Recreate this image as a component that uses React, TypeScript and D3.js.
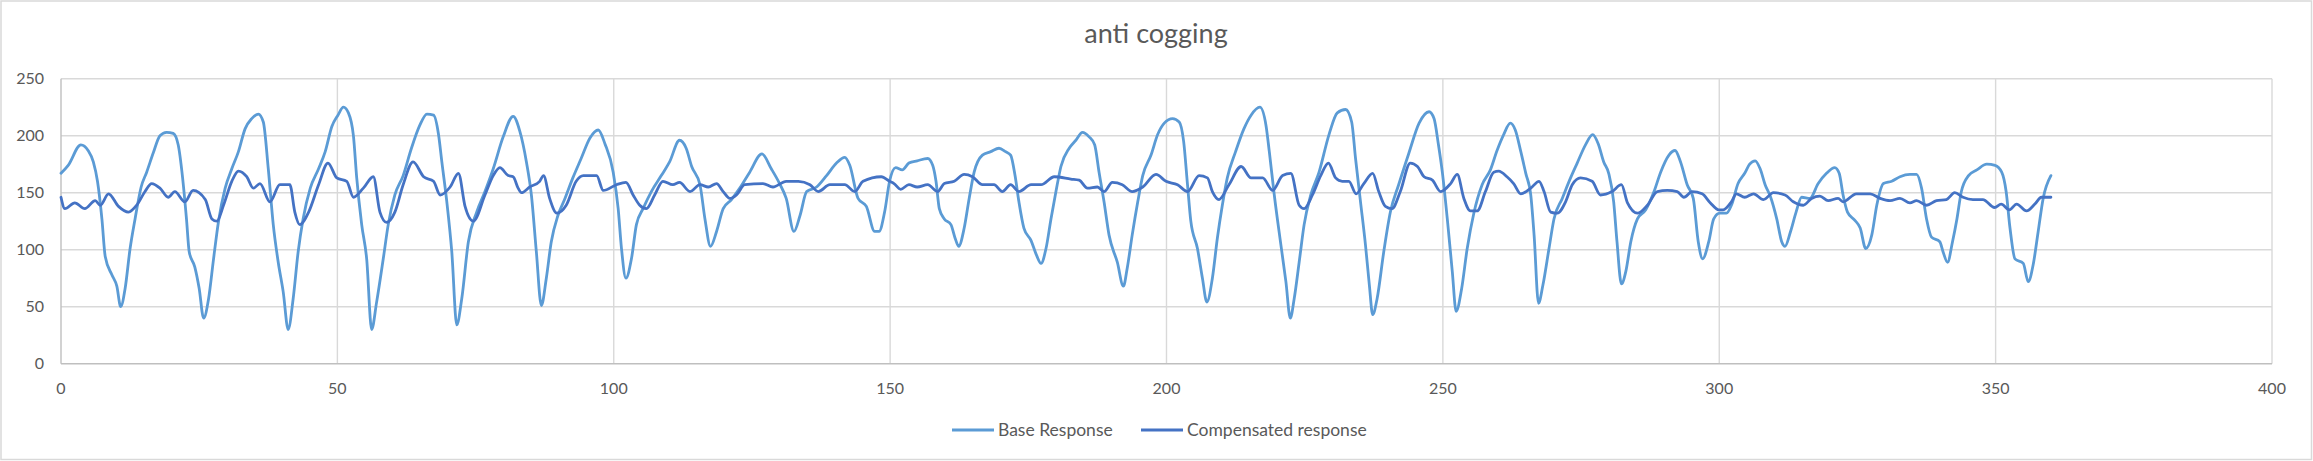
import React from 'react';
import * as d3 from 'd3';

// [angle, value] pairs
const baseResponse: [number, number][] = [
  [0, 167], [1.3, 174], [3.6, 192], [4.9, 187], [5.85, 177], [6.6, 160], [7.4, 127], [8.0, 94],
  [9.2, 78], [10.1, 68], [10.8, 50], [11.6, 66], [12.5, 101], [13.4, 127], [14.5, 155], [15.5, 168],
  [16.7, 185], [17.9, 200], [19.1, 203], [20.3, 202], [21.2, 192], [22.0, 163], [22.7, 127], [23.2, 98],
  [24.2, 85], [25.0, 66], [25.8, 40], [26.7, 57], [27.6, 92], [28.5, 125], [29.7, 154], [30.9, 171],
  [32.1, 186], [33.3, 206], [34.5, 215], [35.7, 219], [36.6, 212], [37.5, 171], [38.4, 122], [39.3, 89],
  [40.2, 63], [41.1, 30], [42.0, 57], [42.9, 98], [43.8, 127], [45.1, 154], [46.6, 171], [47.8, 186],
  [49.0, 208], [50.1, 218], [51.1, 225], [52.0, 220], [52.9, 200], [53.5, 163], [54.4, 122], [55.3, 92],
  [56.2, 30], [57.1, 54], [58.3, 92], [59.2, 122], [60.4, 148], [61.9, 165], [63.4, 189], [64.9, 209],
  [66.2, 219], [67.4, 218], [68.3, 201], [68.9, 177], [69.8, 142], [70.7, 98], [71.6, 34], [72.5, 57],
  [73.7, 107], [75.2, 133], [76.7, 151], [78.2, 171], [80.0, 199], [81.8, 217], [83.0, 204], [84.2, 177],
  [85.1, 148], [86.0, 98], [86.9, 51], [87.8, 75], [88.7, 107], [89.9, 130], [91.1, 144], [92.6, 163],
  [94.1, 180], [95.7, 198], [97.2, 205], [98.4, 193], [99.9, 168], [100.8, 136], [101.4, 101], [102.2, 75],
  [103.2, 92], [104.1, 122], [105.3, 136], [106.8, 151], [108.6, 165], [110.1, 177], [111.9, 196], [113.1, 189],
  [114.1, 173], [115.6, 157], [116.5, 127], [117.5, 103], [118.6, 116], [119.8, 136], [121.3, 144], [122.8, 154],
  [124.6, 168], [126.8, 184], [128.5, 171], [130.0, 158], [131.2, 145], [132.6, 116], [133.7, 130], [134.9, 151],
  [136.7, 155], [138.5, 165], [140.3, 176], [141.8, 181], [142.7, 174], [144.2, 145], [145.7, 138], [147.2, 116],
  [148.0, 116], [149.0, 133], [149.9, 160], [151.0, 172], [152.2, 170], [153.4, 176], [154.9, 178], [156.8, 180],
  [157.7, 174], [158.3, 160], [158.9, 136], [159.8, 127], [161.0, 122], [161.7, 111], [162.4, 103], [163.4, 119],
  [164.3, 145], [165.2, 168], [166.7, 183], [168.2, 186], [169.7, 189], [170.9, 186], [171.8, 183], [172.6, 165],
  [173.3, 142], [174.2, 119], [175.5, 108], [176.5, 95], [177.3, 88], [178.2, 101], [179.1, 127], [180.0, 151],
  [180.9, 173], [182.4, 189], [183.6, 196], [184.8, 203], [186.0, 199], [187.0, 192], [187.8, 168], [188.7, 142],
  [189.6, 113], [191.1, 89], [192.2, 68], [192.9, 84], [193.8, 113], [194.8, 142], [195.7, 165], [197.2, 183],
  [198.4, 201], [199.6, 211], [201.1, 215], [202.3, 212], [203.1, 195], [203.8, 157], [204.4, 125], [205.6, 101],
  [206.5, 75], [207.3, 54], [208.3, 75], [209.2, 110], [210.1, 139], [211.0, 163], [212.5, 186], [214.0, 206],
  [215.3, 218], [216.9, 225], [218.0, 209], [218.6, 186], [219.5, 148], [220.7, 104], [221.6, 72], [222.4, 40],
  [223.1, 57], [224.0, 89], [224.9, 122], [226.1, 148], [227.6, 168], [229.4, 201], [230.9, 220], [232.4, 223],
  [233.5, 212], [234.2, 180], [235.1, 142], [236.0, 104], [236.7, 69], [237.3, 43], [238.1, 57], [239.3, 98],
  [240.5, 133], [242.0, 157], [243.8, 184], [245.7, 211], [247.5, 221], [248.4, 215], [249.2, 192], [249.9, 168],
  [250.8, 127], [251.7, 81], [252.4, 46], [253.4, 66], [254.4, 101], [255.6, 132], [257.1, 157], [258.6, 170],
  [259.8, 187], [261.0, 201], [262.2, 211], [263.1, 205], [264.1, 186], [265.0, 167], [265.9, 148], [266.5, 113],
  [267.3, 53], [268.1, 69], [269.2, 101], [270.1, 127], [271.6, 145], [273.1, 163], [274.3, 176], [275.8, 192],
  [277.1, 201], [278.1, 193], [279.1, 177], [280.0, 167], [280.9, 142], [281.5, 107], [282.3, 70], [283.1, 81],
  [284.0, 107], [285.2, 127], [286.7, 135], [288.2, 151], [289.4, 168], [290.9, 183], [292.0, 187], [293.0, 177],
  [294.2, 157], [295.3, 145], [296.2, 107], [297.0, 92], [298.1, 107], [299.0, 127], [300.1, 132], [301.3, 132],
  [302.2, 139], [303.4, 158], [304.6, 167], [305.5, 175], [306.5, 178], [307.4, 171], [308.3, 157], [309.3, 146],
  [310.4, 127], [311.3, 107], [311.9, 103], [312.9, 116], [313.9, 133], [314.9, 146], [316.4, 145], [317.9, 158],
  [319.4, 167], [320.9, 172], [321.7, 167], [322.4, 148], [323.2, 133], [324.5, 126], [325.5, 119], [326.5, 101],
  [327.6, 113], [328.5, 139], [329.7, 158], [331.2, 160], [332.7, 164], [334.5, 166], [335.7, 166], [336.6, 154],
  [337.5, 127], [338.4, 111], [339.9, 107], [340.5, 98], [341.3, 89], [342.2, 107], [343.0, 127], [343.8, 151],
  [345.1, 165], [346.6, 170], [348.4, 175], [349.9, 174], [351.1, 168], [351.9, 151], [352.6, 119], [353.5, 92],
  [355.0, 88], [355.9, 72], [356.8, 87], [357.7, 116], [358.6, 145], [360.0, 165],
];

const compensatedResponse: [number, number][] = [
  [0, 146], [0.7, 136], [2.5, 141], [4.3, 136], [6.2, 143], [7.1, 139], [8.6, 149], [10.4, 138],
  [12.2, 133], [13.7, 139], [15.2, 151], [16.4, 158], [17.9, 154], [19.4, 146], [20.6, 151], [22.4, 142],
  [23.9, 152], [26.1, 144], [27.3, 127], [28.2, 125], [29.4, 139], [30.9, 160], [32.1, 169], [33.6, 164],
  [34.8, 154], [36.0, 158], [37.8, 142], [39.6, 157], [41.4, 157], [42.3, 133], [43.2, 122], [44.8, 133],
  [46.6, 157], [48.3, 176], [49.9, 163], [51.7, 160], [52.9, 146], [54.7, 154], [56.5, 164], [57.7, 133],
  [58.9, 124], [60.4, 133], [61.9, 157], [63.7, 177], [65.6, 164], [67.4, 160], [68.6, 148], [70.4, 155],
  [71.9, 167], [73.1, 138], [74.6, 125], [76.7, 148], [78.2, 165], [79.4, 172], [80.9, 165], [81.8, 164],
  [82.7, 154], [83.3, 150], [84.8, 155], [86.6, 160], [87.3, 165], [88.4, 145], [89.7, 132], [91.4, 139],
  [93.2, 160], [94.5, 165], [96.9, 165], [98.1, 152], [100.5, 157], [102.2, 159], [103.5, 148], [104.7, 139],
  [105.9, 136], [107.4, 148], [108.9, 160], [110.7, 157], [111.9, 159], [113.8, 151], [115.6, 157], [117.1, 155],
  [118.6, 158], [119.8, 151], [121.0, 145], [122.2, 148], [123.7, 157], [127.0, 158], [128.8, 155], [131.2, 160],
  [133.4, 160], [135.5, 157], [137.0, 151], [139.1, 157], [141.8, 157], [143.6, 151], [145.1, 160], [148.4, 164],
  [149.9, 160], [150.7, 158], [151.9, 153], [153.4, 157], [154.9, 155], [156.8, 157], [158.6, 151], [159.8, 158],
  [161.6, 160], [163.4, 166], [164.9, 164], [166.7, 157], [168.8, 157], [170.3, 151], [171.8, 157], [173.3, 151],
  [175.5, 157], [177.3, 157], [179.7, 164], [182.7, 162], [184.2, 161], [185.7, 154], [187.5, 155], [188.7, 151],
  [190.2, 159], [192.0, 157], [193.8, 151], [195.7, 155], [198.1, 166], [199.9, 160], [202.0, 157], [203.8, 151],
  [205.9, 165], [207.4, 163], [208.3, 151], [209.5, 144], [211.3, 157], [213.5, 173], [215.3, 163], [217.4, 163],
  [219.2, 152], [221.0, 165], [222.5, 167], [224.0, 139], [224.9, 136], [226.4, 148], [227.9, 165], [229.3, 176],
  [230.6, 163], [231.8, 160], [233.0, 160], [234.3, 149], [235.7, 158], [237.3, 167], [238.4, 151], [239.6, 138],
  [240.8, 136], [242.3, 151], [244.1, 176], [245.4, 173], [246.6, 164], [248.1, 161], [249.6, 151], [251.4, 158],
  [252.6, 166], [253.8, 145], [255.0, 134], [256.2, 134], [257.7, 151], [259.2, 168], [260.1, 169], [261.6, 164],
  [262.8, 158], [264.1, 149], [265.9, 154], [267.4, 160], [268.3, 151], [269.5, 133], [270.7, 132], [272.2, 142],
  [273.4, 157], [274.9, 163], [277.0, 160], [278.5, 148], [280.6, 151], [282.3, 157], [283.4, 141], [285.2, 132],
  [287.0, 139], [288.8, 151], [290.6, 152], [292.4, 151], [293.6, 146], [295.1, 151], [296.9, 149], [298.4, 141],
  [299.9, 135], [300.7, 135], [302.2, 142], [303.1, 149], [304.6, 146], [306.2, 149], [308.0, 144], [309.8, 150],
  [311.9, 148], [313.4, 142], [315.2, 139], [316.7, 145], [318.2, 147], [319.7, 143], [321.5, 145], [322.4, 142],
  [324.8, 149], [327.3, 149], [329.1, 145], [330.9, 143], [332.7, 145], [334.5, 141], [335.7, 143], [337.5, 139],
  [339.3, 143], [341.1, 144], [342.6, 150], [344.1, 146], [345.9, 144], [347.7, 144], [349.8, 137], [351.0, 140],
  [352.5, 135], [353.8, 140], [355.6, 134], [357.1, 140], [358.3, 146], [360.0, 146],
];

const xTicks = [0, 50, 100, 150, 200, 250, 300, 350, 400];
const yTicks = [0, 50, 100, 150, 200, 250];
const seriesNames = ['Base Response', 'Compensated response'];
const seriesColors = ['#5B9BD5', '#4472C4'];

const W = 2313;
const H = 461;
const FONT = 'Lato, "Open Sans", sans-serif';

const App: React.FC = () => {
  const x = d3.scaleLinear().domain([0, 400]).range([61, 2272]);
  const y = d3.scaleLinear().domain([0, 250]).range([363.7, 78.7]);

  const line = d3
    .line<[number, number]>()
    .x((d) => x(d[0]))
    .y((d) => y(d[1]))
    .curve(d3.curveMonotoneX);

  const series = [baseResponse, compensatedResponse];

  return (
    <svg width={W} height={H} style={{ display: 'block' }}>
      <style>{`body{margin:0}`}</style>
      <rect x={0} y={0} width={W} height={H} fill="#fff" />
      <rect x={1} y={1} width={W - 2.5} height={H - 2.5} fill="none" stroke="#D9D9D9" strokeWidth={1.5} />

      <text x={1156} y={43} textAnchor="middle" fontFamily={FONT} fontSize={27} fill="#595959">
        anti cogging
      </text>

      {/* gridlines */}
      {yTicks.slice(1).map((t) => (
        <line key={'gy' + t} x1={x(0)} x2={x(400)} y1={y(t)} y2={y(t)} stroke="#D9D9D9" strokeWidth={1.4} />
      ))}
      {xTicks.slice(1).map((t) => (
        <line key={'gx' + t} x1={x(t)} x2={x(t)} y1={y(0)} y2={y(250)} stroke="#D9D9D9" strokeWidth={1.4} />
      ))}
      {/* axes */}
      <line x1={x(0)} x2={x(400)} y1={y(0)} y2={y(0)} stroke="#BFBFBF" strokeWidth={1.4} />
      <line x1={x(0)} x2={x(0)} y1={y(0)} y2={y(250)} stroke="#BFBFBF" strokeWidth={1.4} />

      {yTicks.map((t) => (
        <text key={'ty' + t} x={44} y={y(t)} dy="0.36em" textAnchor="end" fontFamily={FONT} fontSize={16} fill="#595959">
          {t}
        </text>
      ))}
      {xTicks.map((t) => (
        <text key={'tx' + t} x={x(t)} y={394} textAnchor="middle" fontFamily={FONT} fontSize={16} fill="#595959">
          {t}
        </text>
      ))}

      {series.map((s, i) => (
        <path
          key={seriesNames[i]}
          d={line(s) || ''}
          fill="none"
          stroke={seriesColors[i]}
          strokeWidth={2.8}
          strokeLinejoin="round"
          strokeLinecap="round"
        />
      ))}

      {/* legend */}
      {seriesNames.map((name, i) => {
        const lx = i === 0 ? 952 : 1141;
        return (
          <g key={'lg' + name}>
            <line x1={lx} x2={lx + 42} y1={430} y2={430} stroke={seriesColors[i]} strokeWidth={2.8} />
            <text x={lx + 46} y={436} fontFamily={FONT} fontSize={17.5} fill="#595959">
              {name}
            </text>
          </g>
        );
      })}
    </svg>
  );
};

export default App;
